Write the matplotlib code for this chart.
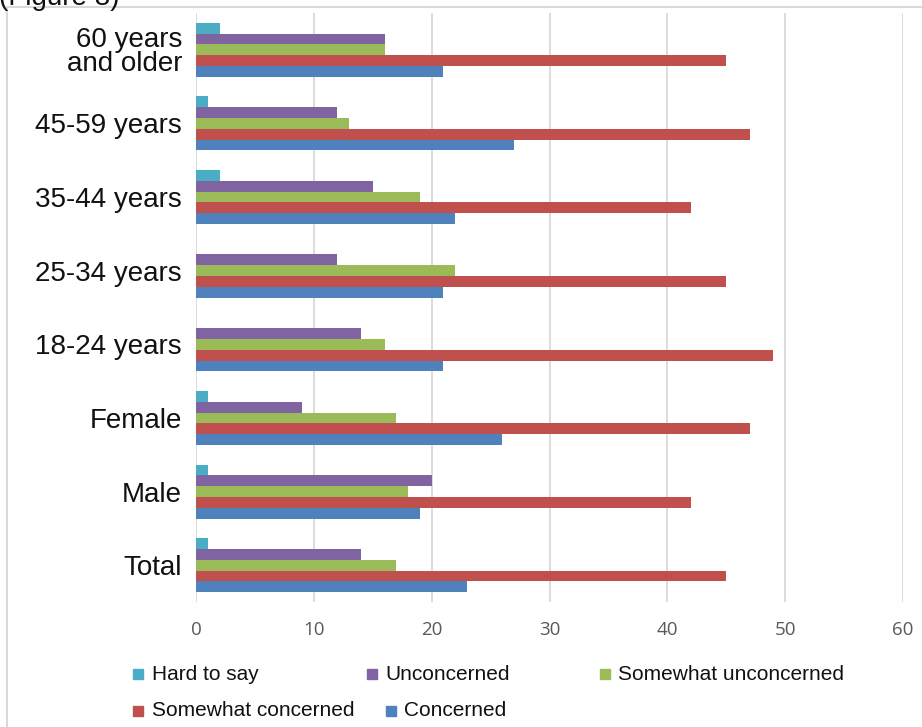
import matplotlib
matplotlib.use("Agg")
import matplotlib.pyplot as plt
from matplotlib.patches import Rectangle
import numpy as np

# survey groups, bottom to top on the chart
groups = ["Total", "Male", "Female", "18-24 years", "25-34 years",
          "35-44 years", "45-59 years", "60 years\nand older"]

# answer shares (%) per group, same order as groups
concerned = [23, 19, 26, 21, 21, 22, 27, 21]
somewhat_concerned = [45, 42, 47, 49, 45, 42, 47, 45]
somewhat_unconcerned = [17, 18, 17, 16, 22, 19, 13, 16]
unconcerned = [14, 20, 9, 14, 12, 15, 12, 16]
hard_to_say = [1, 1, 1, 0, 0, 2, 1, 2]

x_ticks = [0, 10, 20, 30, 40, 50, 60]

# series drawn top-down inside each group
series = [
    ("Hard to say", hard_to_say, "#4bacc6"),
    ("Unconcerned", unconcerned, "#8064a2"),
    ("Somewhat unconcerned", somewhat_unconcerned, "#9bbb59"),
    ("Somewhat concerned", somewhat_concerned, "#c0504d"),
    ("Concerned", concerned, "#4f81bd"),
]

W, H = 922, 727
fig = plt.figure(figsize=(W / 100, H / 100), dpi=100)
ax = fig.add_axes([196 / W, 1 - 602 / H, (903 - 196) / W, (602 - 13) / H])

y = np.arange(len(groups))
h = 0.147
for i, (name, vals, col) in enumerate(series):
    ax.barh(y + (2 - i) * h, vals, height=h, color=col, label=name, zorder=3)

ax.set_xlim(0, 60)
ax.set_ylim(-0.5, len(groups) - 0.5)
ax.set_xticks(x_ticks)
ax.set_yticks(y)
ax.set_yticklabels(groups, fontsize=20, family="Liberation Sans",
                   linespacing=0.92, color="#111111")
ax.tick_params(axis="y", length=0, pad=10)
ax.tick_params(axis="x", length=0, pad=14, labelsize=13.5, labelcolor="#595959")
for lab in ax.get_xticklabels():
    lab.set_family("Open Sans")
ax.grid(axis="x", color="#d9d9d9", lw=1.3, zorder=0)
for s in ax.spines.values():
    s.set_visible(False)

# outer chart frame (top and left edges only are inside the canvas)
fig.add_artist(Rectangle((7 / W, -0.1), 2, 1.1 - 7 / H, transform=fig.transFigure,
                         fill=False, ec="#d9d9d9", lw=1.5))

# caption above the frame, running off the top edge
fig.text(-1 / W, 1 - 5 / H, "(Figure 8)", fontsize=20, family="Liberation Sans",
         va="baseline", ha="left", color="#111111")

# legend laid out in two rows
legend_pos = [(133, 152, 674), (367, 385, 674), (600, 618, 674),
              (133, 152, 711), (386, 404, 711)]
for (name, _, col), (mx, tx, ty) in zip(series, legend_pos):
    fig.add_artist(Rectangle((mx / W, 1 - (ty + 5) / H), 10 / W, 10 / H,
                             transform=fig.transFigure, color=col))
    fig.text(tx / W, 1 - ty / H, name, fontsize=15, family="Liberation Sans",
             va="center", ha="left", color="#111111")

fig.savefig("out.png", dpi=100)
